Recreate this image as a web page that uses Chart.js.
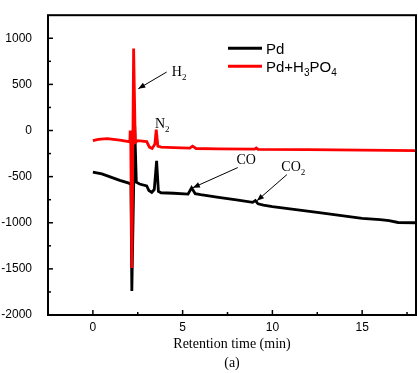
<!DOCTYPE html>
<html><head><meta charset="utf-8">
<script src="https://cdn.jsdelivr.net/npm/chart.js@4/dist/chart.umd.min.js"></script>
<style>html,body{margin:0;padding:0;background:#fff}canvas{display:block}</style>
</head><body>
<canvas id="c" width="418" height="373"></canvas>
<script>
// ---- data ----
const pdTime   = [0,0.5,1,1.5,2,2.12,2.17,2.33,2.42,2.6,3.0,3.12,3.28,3.42,3.55,3.65,3.8,4.5,5.3,5.5,5.7,6.0,7,8,8.9,9.05,9.2,9.5,10,12.5,15,16,16.5,17,18];
const pdSignal = [-450,-470,-505,-540,-570,-585,-1740,50,-560,-580,-600,-650,-670,-640,-330,-660,-675,-680,-690,-620,-685,-696,-725,-752,-779,-760,-795,-808,-826,-888,-953,-965,-978,-997,-1000];
const acidTime   = [0,0.3,0.8,1.5,2.0,2.06,2.08,2.11,2.17,2.27,2.36,2.5,3.0,3.15,3.3,3.45,3.53,3.62,3.8,4.5,5.4,5.55,5.75,7,9,9.1,9.2,12,15,18];
const acidSignal = [-110,-95,-88,-105,-120,-125,0,-120,-1490,890,-130,-110,-120,-180,-195,-150,10,-170,-180,-185,-190,-170,-195,-200,-202,-190,-205,-208,-212,-218];
const xTickValues = [0,5,10,15];
const yTickValues = [-2000,-1500,-1000,-500,0,500,1000];
const xMinorValues = [-2.5,2.5,7.5,12.5,17.5];
const yMinorValues = [-1750,-1250,-750,-250,250,750];
const seriesNames = ['Pd','Pd+H3PO4'];

// annotations (label anchor + arrow in data units)
const annotations = [
  {main:'H',  sub:'2', tx:4.4,  ty:587,  ax0:4.11,  ay0:634,  ax1:2.53, ay1:453},
  {main:'N',  sub:'2', tx:3.46, ty:22},
  {main:'CO', sub:'',  tx:8.0,  ty:-359, ax0:8.07,  ay0:-402, ax1:5.57, ay1:-620},
  {main:'CO', sub:'2', tx:10.5, ty:-435, ax0:10.81, ay0:-478, ax1:9.14, ay1:-761}
];

const toPts = (xs, ys) => xs.map((x,i)=>({x, y: ys[i]}));

const SERIF = '"Liberation Serif","Times New Roman",serif';
const SANS = '"Liberation Sans",Arial,sans-serif';

const decor = {
  id:'decor',
  afterDraw(chart){
    const {ctx, chartArea:a, scales:{x, y}} = chart;
    ctx.save();
    // inward ticks
    ctx.strokeStyle='#000'; ctx.lineWidth=1.5;
    const tk = (x0,y0,x1,y1)=>{ctx.beginPath();ctx.moveTo(x0,y0);ctx.lineTo(x1,y1);ctx.stroke();};
    xTickValues.forEach(v=>{const p=x.getPixelForValue(v); tk(p,a.bottom,p,a.bottom-5);});
    xMinorValues.forEach(v=>{const p=x.getPixelForValue(v); tk(p,a.bottom,p,a.bottom-3);});
    yTickValues.forEach(v=>{const p=y.getPixelForValue(v); tk(a.left,p,a.left+5,p);});
    yMinorValues.forEach(v=>{const p=y.getPixelForValue(v); tk(a.left,p,a.left+3,p);});
    // frame
    ctx.lineWidth=2;
    ctx.strokeRect(a.left, a.top, a.right-a.left, a.bottom-a.top);

    // legend
    const lx = a.left+180, ly = a.top+33;
    const cols = ['#000000','#ff0000'];
    ctx.lineWidth=3;
    [0,1].forEach(i=>{
      ctx.strokeStyle=cols[i];
      tk(lx, ly+i*18, lx+34, ly+i*18);
    });
    ctx.fillStyle='#000';
    ctx.textBaseline='alphabetic'; ctx.textAlign='left';
    ctx.font='15px '+SANS;
    let tx = lx+38;
    ctx.fillText(seriesNames[0], tx, ly+5.5);
    // Pd+H3PO4 with subscripts
    const parts = [['Pd+H',0],['3',1],['PO',0],['4',1]];
    let cx = tx, by = ly+18+5.5;
    parts.forEach(([t,s])=>{
      ctx.font = (s?'10px ':'15px ')+SANS;
      ctx.fillText(t, cx, by + (s?4:0));
      cx += ctx.measureText(t).width;
    });

    // annotations
    annotations.forEach(an=>{
      const px = x.getPixelForValue(an.tx), py = y.getPixelForValue(an.ty);
      ctx.fillStyle='#000';
      ctx.font='14px '+SERIF;
      ctx.fillText(an.main, px, py);
      const w = ctx.measureText(an.main).width;
      if(an.sub){ ctx.font='9px '+SERIF; ctx.fillText(an.sub, px+w, py+4); }
      if(an.ax0!==undefined){
        const x0=x.getPixelForValue(an.ax0), y0=y.getPixelForValue(an.ay0);
        const x1=x.getPixelForValue(an.ax1), y1=y.getPixelForValue(an.ay1);
        ctx.strokeStyle='#000'; ctx.lineWidth=1;
        tk(x0,y0,x1,y1);
        const ang=Math.atan2(y1-y0,x1-x0), L=7, H=2.8;
        ctx.beginPath();
        ctx.moveTo(x1,y1);
        ctx.lineTo(x1-L*Math.cos(ang)+H*Math.sin(ang), y1-L*Math.sin(ang)-H*Math.cos(ang));
        ctx.lineTo(x1-L*Math.cos(ang)-H*Math.sin(ang), y1-L*Math.sin(ang)+H*Math.cos(ang));
        ctx.closePath(); ctx.fill();
      }
    });
    ctx.restore();
  }
};

new Chart(document.getElementById('c'), {
  type:'line',
  data:{datasets:[
    {label:seriesNames[0], data:toPts(pdTime,pdSignal), borderColor:'#000000', borderWidth:2.8, pointRadius:0, fill:false, tension:0, order:1},
    {label:seriesNames[1], data:toPts(acidTime,acidSignal), borderColor:'#ff0000', borderWidth:2.8, pointRadius:0, fill:false, tension:0, order:0}
  ]},
  options:{
    responsive:false, animation:false, devicePixelRatio:1,
    layout:{padding:{top:15,right:2,left:0,bottom:0}},
    plugins:{legend:{display:false}, tooltip:{enabled:false}},
    scales:{
      x:{type:'linear', min:-2.5, max:18,
        grid:{display:false}, border:{display:false},
        afterBuildTicks:s=>{s.ticks = xTickValues.map(v=>({value:v}));},
        afterFit:s=>{s.height=58;},
        ticks:{color:'#000', font:{family:SANS,size:12}, padding:-3, maxRotation:0, callback:v=>String(v)},
        title:{display:true, text:['Retention time (min)','(a)'], color:'#000',
               font:{family:SERIF,size:14,lineHeight:1.36}, padding:{top:0,bottom:0}}
      },
      y:{type:'linear', min:-2000, max:1250,
        grid:{display:false}, border:{display:false},
        afterBuildTicks:s=>{s.ticks = yTickValues.map(v=>({value:v}));},
        afterFit:s=>{s.width=48;},
        ticks:{color:'#000', font:{family:SANS,size:12}, padding:8, callback:v=>String(v)}
      }
    }
  },
  plugins:[decor]
});
</script>
</body></html>
